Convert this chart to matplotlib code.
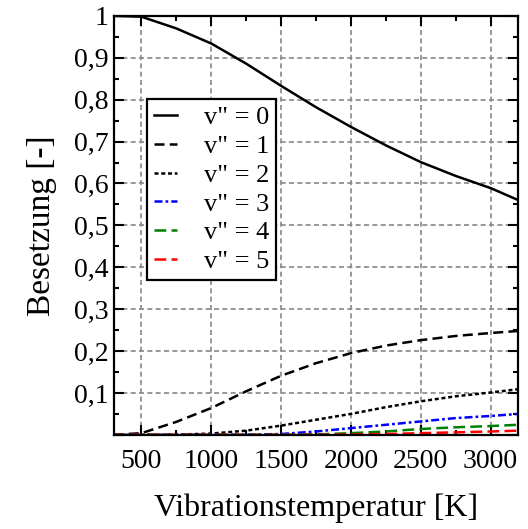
import matplotlib
matplotlib.use('Agg')
from matplotlib import pyplot as plt
from matplotlib.ticker import MultipleLocator, FuncFormatter

T = [300, 500, 750, 1000, 1250, 1500, 1750, 2000, 2250, 2500, 2750, 3000, 3200]

v0 = [1.0, 0.998, 0.970, 0.934, 0.886, 0.833, 0.782, 0.735, 0.691, 0.651, 0.618, 0.589, 0.560]
v1 = [0.0, 0.004, 0.031, 0.064, 0.104, 0.141, 0.171, 0.195, 0.213, 0.226, 0.236, 0.243, 0.248]
v2 = [0.0, 0.0, 0.0005, 0.003, 0.010, 0.022, 0.036, 0.050, 0.066, 0.080, 0.092, 0.101, 0.109]
v3 = [0.0, 0.0, 0.0, 0.0, 0.0005, 0.002, 0.008, 0.016, 0.024, 0.032, 0.040, 0.045, 0.050]
v4 = [0.0, 0.0, 0.0, 0.0, 0.0, 0.0003, 0.001, 0.004, 0.008, 0.014, 0.018, 0.021, 0.024]
v5 = [0.0, 0.0, 0.0, 0.0, 0.0, 0.0, 0.0002, 0.0008, 0.002, 0.004, 0.006, 0.008, 0.010]

labels = ['v" = 0', 'v" = 1', 'v" = 2', 'v" = 3', 'v" = 4', 'v" = 5']

plt.rcParams['font.family'] = ['Liberation Serif', 'DejaVu Serif']

fig = plt.figure(figsize=(5.28, 5.29), dpi=100)
ax = fig.add_axes([0.215, 0.178, 0.767, 0.792])

lw = 1.8
ax.plot(T, v0, '-', color='black', lw=lw, label=labels[0])
ax.plot(T, v1, color='black', lw=lw, dashes=(4.0, 2.1), label=labels[1])
ax.plot(T, v2, color='black', lw=lw, dashes=(1.6, 1.1), label=labels[2])
ax.plot(T, v3, color='#0000ff', lw=lw, dashes=(3.2, 1.2, 1.1, 1.2), label=labels[3])
ax.plot(T, v4, color='#008000', lw=lw, dashes=(4.7, 2.1), label=labels[4])
ax.plot(T, v5, color='#ff0000', lw=lw, dashes=(4.7, 2.1), label=labels[5])

ax.set_xlim(300, 3200)
ax.set_ylim(0, 1)

ax.xaxis.set_major_locator(MultipleLocator(500))
ax.xaxis.set_minor_locator(MultipleLocator(250))
ax.yaxis.set_major_locator(MultipleLocator(0.1))
ax.yaxis.set_minor_locator(MultipleLocator(0.05))

def yfmt(v, pos):
    if abs(v) < 1e-9:
        return ''
    if abs(v - 1) < 1e-9:
        return '1'
    return ('%.1f' % v).replace('.', ',')

ax.yaxis.set_major_formatter(FuncFormatter(yfmt))

ax.tick_params(which='both', direction='in', top=True, right=True, width=1.5, labelsize=20)
ax.tick_params(which='major', length=7)
ax.tick_params(which='minor', length=3.5)
ax.tick_params(axis='x', pad=10)

for s in ax.spines.values():
    s.set_linewidth(1.6)

ax.grid(True, which='major', color='#888888', linestyle=(0, (3, 2)), linewidth=1.2)

ax.set_xlabel('Vibrationstemperatur [K]', fontsize=23, labelpad=14)
ax.set_ylabel('Besetzung [-]', fontsize=24, labelpad=12)

leg = ax.legend(loc='upper left', bbox_to_anchor=(0.083, 0.801), borderaxespad=0, fontsize=19,
                frameon=True, fancybox=False, edgecolor='black', handlelength=0.9,
                handletextpad=1.0, labelspacing=0.2, borderpad=0.25)
leg.get_frame().set_linewidth(1.6)
leg.get_frame().set_alpha(1)

plt.savefig('out.png', dpi=100)
